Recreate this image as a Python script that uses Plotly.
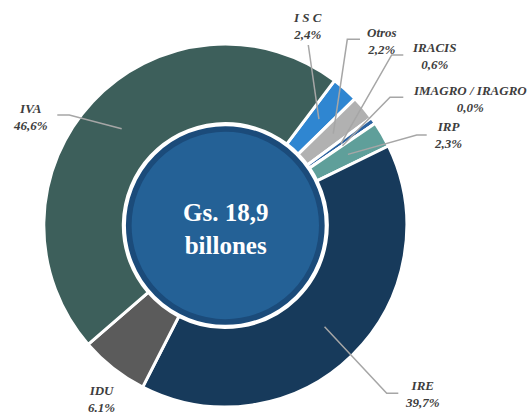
import math
import plotly.graph_objects as go

# ---- data ----
categories = ["I S C", "Otros", "IRACIS", "IMAGRO / IRAGRO", "IRP", "IRE", "IDU", "IVA"]
shares = [2.4, 2.2, 0.6, 0.0, 2.3, 39.7, 6.1, 46.6]
share_labels = ["2,4%", "2,2%", "0,6%", "0,0%", "2,3%", "39,7%", "6.1%", "46,6%"]
center_text = ["Gs. 18,9", "billones"]

# ---- styles / layout ----
W, H = 527, 415
FONT = "Liberation Serif, Times New Roman, DejaVu Serif, serif"
colors = ["#2f86d1", "#b1b1b1", "#2b62a0", "#1f4e79", "#5f9f9a", "#173a5b", "#5b5b5b", "#3d5f5b"]
CX, CY = 225.3, 225.5          # pie centre in pixels
R_OUT = 181.5                  # plotly radius (incl. half border)
HOLE_R = 102.0
INNER_R = 96.5
ROTATION = 37
LABEL_POS = {  # label centre (px)
    "I S C": (307.3, 25.5), "Otros": (382.3, 40.5), "IRACIS": (434, 56),
    "IMAGRO / IRAGRO": (470, 98.5), "IRP": (448.3, 135), "IRE": (422.7, 394),
    "IDU": (101.7, 398.5), "IVA": (30.7, 117),
}
ELBOWS = {  # (elbow, end) pixels of leader lines
    "I S C": [(308.3, 45)],
    "Otros": [(347.3, 39.3), (360, 39.3)],
    "IRACIS": [(391.7, 55), (403.3, 55)],
    "IMAGRO / IRAGRO": [(390, 97.3), (403.3, 97.3)],
    "IRP": [(416.7, 135), (426.7, 135)],
    "IRE": [(386.7, 393.3), (398.3, 393.3)],
    "IVA": [(69.3, 115), (57.3, 115)],
}

def px(x):
    return x / W

def py(y):
    return 1 - y / H

fig = go.Figure()
fig.add_trace(go.Pie(
    labels=categories, values=shares, sort=False, direction="clockwise",
    rotation=ROTATION, hole=HOLE_R / R_OUT, textinfo="none", hoverinfo="label+percent",
    marker=dict(colors=colors, line=dict(color="white", width=3)),
    domain=dict(x=[px(CX - R_OUT), px(CX + R_OUT)], y=[py(CY + R_OUT), py(CY - R_OUT)]),
    showlegend=False,
))
fig.add_trace(go.Pie(
    labels=["Total"], values=[1], sort=False, textinfo="none", hoverinfo="skip",
    marker=dict(colors=["#246196"], line=dict(color="#1b4b7a", width=5.7)),
    domain=dict(x=[px(CX - INNER_R), px(CX + INNER_R)], y=[py(CY + INNER_R), py(CY - INNER_R)]),
    showlegend=False,
))

total = sum(shares)
cum = 0.0
shapes = []
annotations = []
mid_r = (HOLE_R + R_OUT) / 2
for cat, v, lab in zip(categories, shares, share_labels):
    mid = ROTATION + (cum + v / 2) / total * 360
    cum += v
    a = math.radians(mid)
    ax, ay = CX + mid_r * math.sin(a), CY - mid_r * math.cos(a)
    pts = [(ax, ay)] + ELBOWS.get(cat, [])
    if len(pts) > 1:
        path = "M " + " L ".join(f"{px(x):.5f},{py(y):.5f}" for x, y in pts)
        shapes.append(dict(type="path", path=path, xref="paper", yref="paper",
                           line=dict(color="#a6a6a6", width=1.5)))
    lx, ly = LABEL_POS[cat]
    annotations.append(dict(
        text=f"<b><i>{cat}</i></b><br><b><i>{lab}</i></b>", x=px(lx), y=py(ly),
        xref="paper", yref="paper", showarrow=False, xanchor="center", yanchor="middle",
        font=dict(family=FONT, size=13, color="#3d3d3d"),
    ))

annotations.append(dict(
    text="<b>" + "<br>".join(center_text) + "</b>", x=px(CX), y=py(CY + 3),
    xref="paper", yref="paper", showarrow=False, xanchor="center", yanchor="middle",
    font=dict(family=FONT, size=25, color="white"),
))

fig.update_layout(
    width=W, height=H, margin=dict(l=0, r=0, t=0, b=0),
    paper_bgcolor="white", plot_bgcolor="white",
    shapes=shapes, annotations=annotations,
    font=dict(family=FONT),
)
fig.write_html("out.html", config={"displayModeBar": False},
               post_script="document.body.style.margin='0';document.body.style.overflow='hidden';")
